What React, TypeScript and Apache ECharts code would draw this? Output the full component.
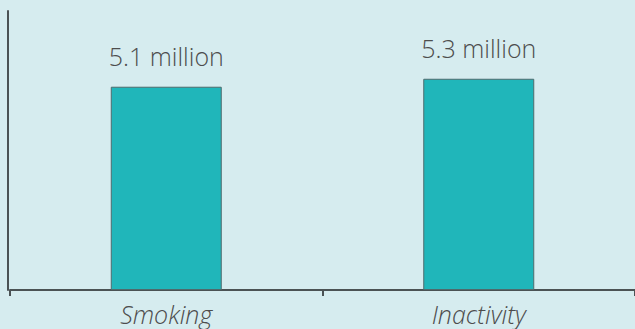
import React, { useEffect, useRef } from "react";
import * as echarts from "echarts";

const categories = ["Smoking", "Inactivity"];
const deaths = [5.1, 5.3];
const labels = ["5.1 million", "5.3 million"];

export default function App() {
  const ref = useRef<HTMLDivElement>(null);
  useEffect(() => {
    if (!ref.current) return;
    const chart = echarts.init(ref.current, null, { renderer: "svg" });
    chart.setOption({
      animation: false,
      backgroundColor: "#d6ecef",
      grid: { left: 10, right: 0, top: 11, bottom: 39, containLabel: false },
      xAxis: {
        type: "category",
        data: categories,
        axisLine: { show: true, lineStyle: { color: "#4b5254", width: 2 } },
        axisTick: { show: true, length: 6, lineStyle: { color: "#4b5254", width: 2 } },
        axisLabel: {
          color: "#4d4d4d",
          fontSize: 25,
          fontFamily: "Open Sans",
          fontWeight: 300,
          fontStyle: "italic",
          margin: 11,
        },
      },
      yAxis: {
        type: "value",
        min: 0,
        max: 7,
        offset: 2,
        axisLine: { show: true, lineStyle: { color: "#4b5254", width: 2 } },
        axisTick: { show: false },
        axisLabel: { show: false },
        splitLine: { show: false },
      },
      series: [
        {
          type: "bar",
          data: deaths,
          barWidth: 111,
          itemStyle: { color: "#20b6ba", borderColor: "#4f6b6d", borderWidth: 1 },
          label: {
            show: true,
            position: "top",
            distance: 18,
            color: "#4d4d4d",
            fontSize: 25,
            fontWeight: 300,
            fontFamily: "Open Sans",
            formatter: (p: any) => labels[p.dataIndex],
          },
        },
      ],
    });
    return () => chart.dispose();
  }, []);
  return <div ref={ref} style={{ width: 635, height: 329, position: "absolute", left: 0, top: 0 }} />;
}
